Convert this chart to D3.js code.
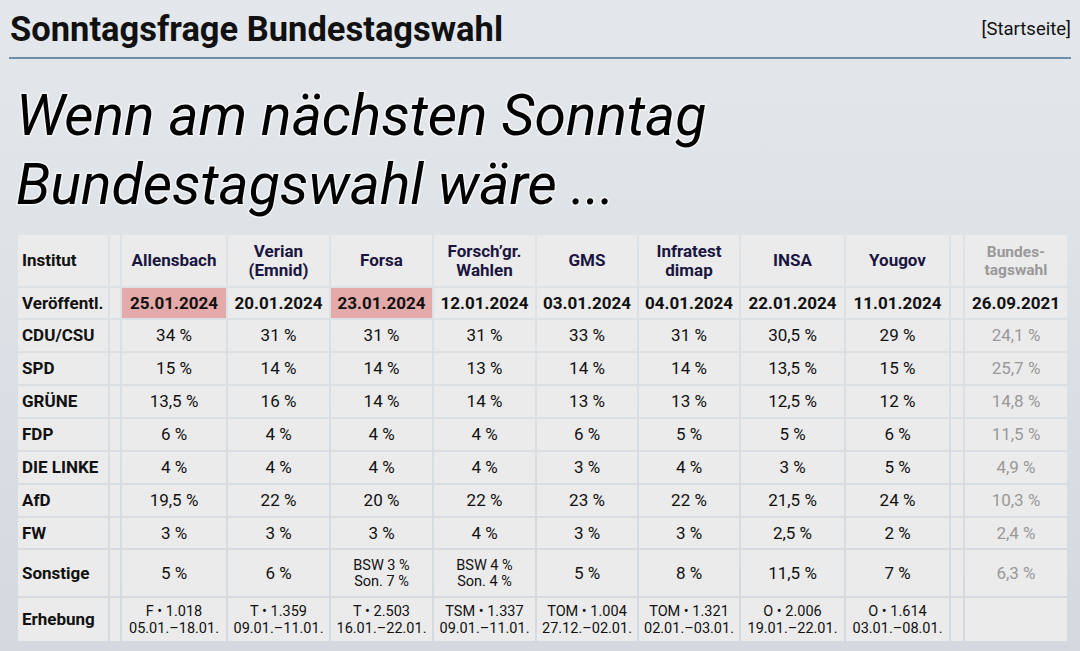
<!DOCTYPE html>
<html><head><meta charset="utf-8">
<script src="https://cdn.jsdelivr.net/npm/d3@7"></script>
<style>
body{margin:0;width:1080px;height:651px;overflow:hidden;background:linear-gradient(#e4e8ec,#d3d9df);font-family:Roboto,sans-serif}
</style></head><body><svg id="chart" width="1080" height="651"></svg>
<script>
const institutes = ['Allensbach', 'Verian\n(Emnid)', 'Forsa', 'Forsch’gr.\nWahlen', 'GMS', 'Infratest\ndimap', 'INSA', 'Yougov'];
const published = ['25.01.2024', '20.01.2024', '23.01.2024', '12.01.2024', '03.01.2024', '04.01.2024', '22.01.2024', '11.01.2024'];
const highlighted = ['25.01.2024', '23.01.2024'];
const parties = ['CDU/CSU', 'SPD', 'GRÜNE', 'FDP', 'DIE LINKE', 'AfD', 'FW', 'Sonstige'];
const values = [
  ['34 %', '31 %', '31 %', '31 %', '33 %', '31 %', '30,5 %', '29 %'],
  ['15 %', '14 %', '14 %', '13 %', '14 %', '14 %', '13,5 %', '15 %'],
  ['13,5 %', '16 %', '14 %', '14 %', '13 %', '13 %', '12,5 %', '12 %'],
  ['6 %', '4 %', '4 %', '4 %', '6 %', '5 %', '5 %', '6 %'],
  ['4 %', '4 %', '4 %', '4 %', '3 %', '4 %', '3 %', '5 %'],
  ['19,5 %', '22 %', '20 %', '22 %', '23 %', '22 %', '21,5 %', '24 %'],
  ['3 %', '3 %', '3 %', '4 %', '3 %', '3 %', '2,5 %', '2 %'],
  ['5 %', '6 %', 'BSW 3 %\nSon. 7 %', 'BSW 4 %\nSon. 4 %', '5 %', '8 %', '11,5 %', '7 %'],
];
const election = ['24,1 %', '25,7 %', '14,8 %', '11,5 %', '4,9 %', '10,3 %', '2,4 %', '6,3 %'];
const survey = ['F • 1.018\n05.01.–18.01.', 'T • 1.359\n09.01.–11.01.', 'T • 2.503\n16.01.–22.01.', 'TSM • 1.337\n09.01.–11.01.',
  'TOM • 1.004\n27.12.–02.01.', 'TOM • 1.321\n02.01.–03.01.', 'O • 2.006\n19.01.–22.01.', 'O • 1.614\n03.01.–08.01.'];

const svg = d3.select('#chart');

// column edges / row edges (px)
const colX = [17, 109, 121, 227, 330, 433, 536, 638, 740, 845, 950, 964, 1068];
const rowY = [234, 287, 319, 352, 385, 418, 451, 484, 517, 549, 597, 642];

svg.append('text').attr('x', 10).attr('y', 41).attr('font-size', 34.5).attr('font-weight', 700).attr('fill', '#111')
  .text('Sonntagsfrage Bundestagswahl');
svg.append('text').attr('x', 1071).attr('y', 35).attr('text-anchor', 'end').attr('font-size', 18.5).attr('fill', '#111')
  .text('[Startseite]');
svg.append('line').attr('x1', 9).attr('x2', 1071).attr('y1', 58).attr('y2', 58).attr('stroke', '#4a7092').attr('stroke-width', 1.5);
['Wenn am nächsten Sonntag', 'Bundestagswahl wäre ...'].forEach((t, i) => {
  svg.append('text').attr('x', 16).attr('y', 135 + i * 69).attr('font-size', 57).attr('font-style', 'italic')
    .attr('fill', '#000').style('paint-order', 'stroke').attr('stroke', '#fff').attr('stroke-width', 3).attr('stroke-opacity', 0.6)
    .text(t);
});

// build grid
const rows = [];
rows.push({ label: 'Institut', cells: institutes, last: 'Bundes-\ntagswahl', head: true });
rows.push({ label: 'Veröffentl.', cells: published, last: '26.09.2021', bold: true });
parties.forEach((p, i) => rows.push({ label: p, cells: values[i], last: election[i] }));
rows.push({ label: 'Erhebung', cells: survey, last: '', small: true });

function cell(c, r, txt, opt) {
  const x0 = colX[c] + 1, x1 = colX[c + 1] - 1, y0 = rowY[r] + 1, y1 = rowY[r + 1] - 1;
  svg.append('rect').attr('x', x0).attr('y', y0).attr('width', x1 - x0).attr('height', y1 - y0)
    .attr('fill', opt.fill || '#ebebeb');
  if (!txt) return;
  const lines = txt.split('\n');
  const fs = opt.fs;
  const lh = fs * 1.15;
  const t = svg.append('text').attr('font-size', fs).attr('font-weight', opt.weight || 400)
    .attr('fill', opt.color || '#111')
    .attr('text-anchor', opt.left ? 'start' : 'middle')
    .attr('x', opt.left ? x0 + 4 : (x0 + x1) / 2);
  lines.forEach((l, i) => {
    t.append('tspan').attr('x', opt.left ? x0 + 4 : (x0 + x1) / 2)
      .attr('y', (y0 + y1) / 2 + (i - (lines.length - 1) / 2) * lh).attr('dy', '0.35em').text(l);
  });
}

rows.forEach((row, r) => {
  cell(0, r, row.label, { left: true, fs: 17, weight: 700 });
  cell(1, r, '', {});
  row.cells.forEach((d, i) => {
    const opt = { fs: row.head ? 17 : (row.small || d.includes('\n') ? 14.5 : 17) };
    if (row.head) { opt.weight = 700; opt.color = '#1a1640'; }
    if (row.bold) { opt.weight = 700; if (highlighted.includes(d)) opt.fill = '#e4aaaa'; }
    cell(i + 2, r, d, opt);
  });
  cell(10, r, '', {});
  cell(11, r, row.last, { fs: row.head ? 15.5 : 17, weight: row.head || row.bold ? 700 : 400,
    color: row.head ? '#999' : (row.bold ? '#111' : '#999') });
});
</script></body></html>
